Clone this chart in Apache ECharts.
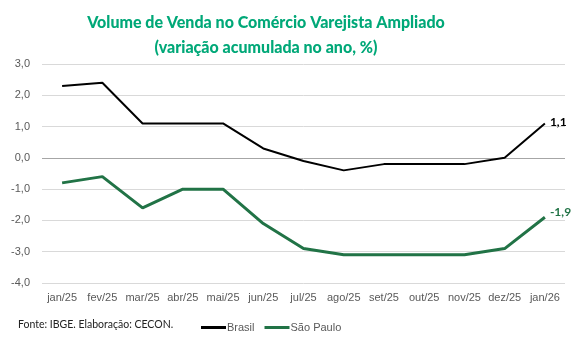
<!DOCTYPE html>
<html><head><meta charset="utf-8">
<script src="https://cdn.jsdelivr.net/npm/echarts@6/dist/echarts.min.js"></script>
<style>html,body{margin:0;padding:0;background:#fff}#c{width:586px;height:342px}</style>
</head><body><div id="c"></div>
<script>
const categories = ['jan/25','fev/25','mar/25','abr/25','mai/25','jun/25','jul/25','ago/25','set/25','out/25','nov/25','dez/25','jan/26'];
const brasil = [2.3, 2.4, 1.1, 1.1, 1.1, 0.3, -0.1, -0.4, -0.2, -0.2, -0.2, 0.0, 1.1];
const saoPaulo = [-0.8, -0.6, -1.6, -1.0, -1.0, -2.1, -2.9, -3.1, -3.1, -3.1, -3.1, -2.9, -1.9];
const yTicks = [-4, -3, -2, -1, 0, 1, 2, 3];

const fmt = v => (v < 0 ? '-' : '') + Math.abs(v).toFixed(1).replace('.', ',');
const endLabel = (color, dy) => ({
  show: true,
  formatter: p => fmt(p.value),
  position: 'right',
  offset: [0, dy],
  distance: 5,
  color: color, fontWeight: 'bold', fontSize: 12, fontFamily: 'Lato'
});

const chart = echarts.init(document.getElementById('c'), null, {renderer: 'canvas'});
chart.setOption({
  animation: false,
  backgroundColor: '#fff',
  title: {
    text: 'Volume de Venda no Comércio Varejista Ampliado\n(variação acumulada no ano, %)',
    left: 261, top: 5, textAlign: 'center',
    textStyle: {color: '#00a878', fontSize: 16, fontWeight: 900, fontFamily: 'Lato', lineHeight: 25}
  },
  graphic: [{
    type: 'text', left: 18, top: 319,
    style: {text: 'Fonte: IBGE. Elaboração: CECON.', fontSize: 10.5, fontFamily: 'Lato', fill: '#222'}
  }],
  legend: {
    left: 196, top: 317, itemGap: 10, itemWidth: 25, itemHeight: 3, icon: 'rect',
    textStyle: {fontSize: 11, color: '#595959', fontFamily: 'Liberation Sans', padding: [0,0,0,-4]},
    data: ['Brasil', 'São Paulo']
  },
  grid: {left: 42, right: 21, top: 64, bottom: 59},
  xAxis: {
    type: 'category', data: categories, boundaryGap: true,
    axisLine: {show: false}, axisTick: {show: false},
    axisLabel: {color: '#595959', fontSize: 11, fontFamily: 'Liberation Sans', margin: 9, interval: 0}
  },
  yAxis: {
    type: 'value', min: yTicks[0], max: yTicks[yTicks.length - 1], interval: 1,
    axisLine: {show: false}, axisTick: {show: false},
    axisLabel: {color: '#595959', fontSize: 11, fontFamily: 'Liberation Sans', formatter: fmt, margin: 12},
    splitLine: {lineStyle: {color: yTicks.map(v => v === 0 ? '#a6a6a6' : '#d9d9d9'), width: 1}}
  },
  series: [
    {name: 'Brasil', type: 'line', data: brasil, symbol: 'none', color: '#000',
     lineStyle: {color: '#000', width: 2}, endLabel: endLabel('#000', -1)},
    {name: 'São Paulo', type: 'line', data: saoPaulo, symbol: 'none', color: '#217346',
     lineStyle: {color: '#217346', width: 3}, endLabel: endLabel('#217346', -5)}
  ]
});
</script></body></html>
